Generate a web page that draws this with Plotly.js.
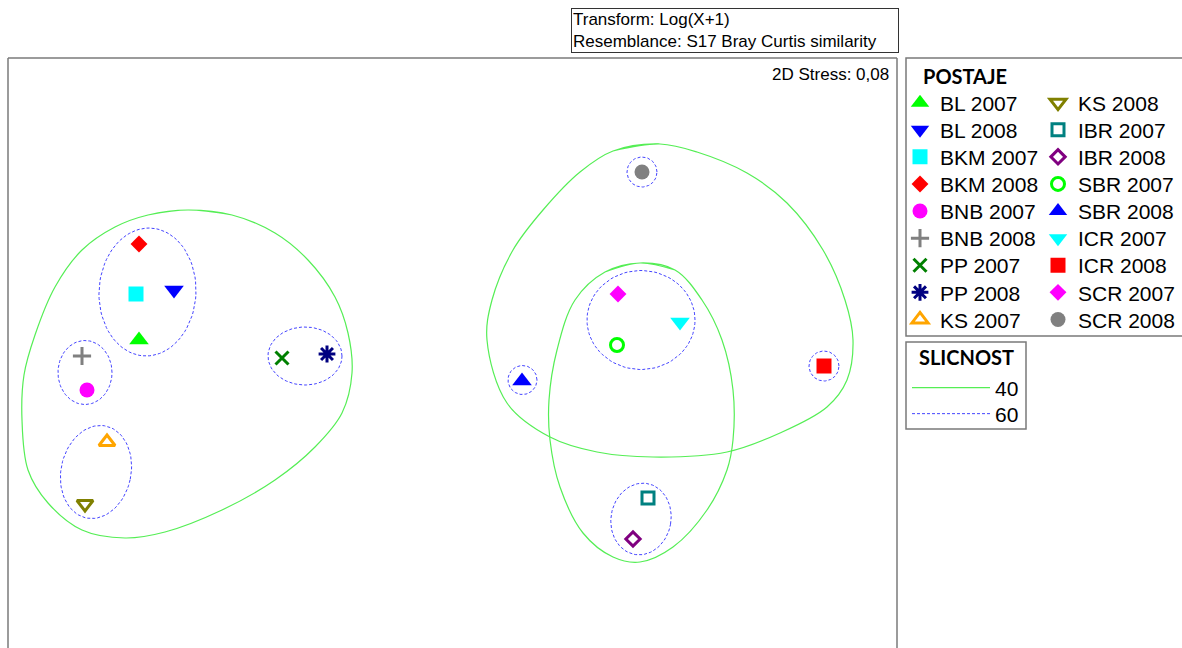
<!DOCTYPE html>
<html><head><meta charset="utf-8">
<script src="https://cdn.plot.ly/plotly-3.0.1.min.js"></script>
<style>html,body{margin:0;padding:0;background:#fff;}#chart{width:1182px;height:648px;}</style>
</head><body><div id="chart"></div>
<script>
// ---- Data (nMDS ordination coordinates) ----
const samples = ['BL 2007','BL 2008','BKM 2007','BKM 2008','BNB 2007','BNB 2008','PP 2007','PP 2008','KS 2007',
                 'KS 2008','IBR 2007','IBR 2008','SBR 2007','SBR 2008','ICR 2007','ICR 2008','SCR 2007','SCR 2008'];
const mds1 = [-3.14,-2.79,-3.17,-3.14,-3.66,-3.71,-1.71,-1.26,-3.46,
              -3.68, 1.95, 1.80, 1.64, 0.69, 2.27, 3.71, 1.65, 1.89];
const mds2 = [ 0.10, 0.60, 0.56, 1.06,-0.40,-0.06,-0.08,-0.04,-0.92,
              -1.54,-1.48,-1.89, 0.05,-0.31, 0.28,-0.16, 0.56, 1.78];

// 40% similarity contours (control points along each closed curve)
const c40aX = [-2.65,-2.21,-1.78,-1.45,-1.18,-1.05,-1.01,-1.11,-1.38,-1.78,-2.31,-2.88,-3.28,-3.71,-4.05,-4.25,-4.31,-4.29,-4.18,-3.98,-3.71,-3.38,-3.05];
const c40aY = [ 1.40, 1.35, 1.17, 0.90, 0.53, 0.17,-0.23,-0.63,-0.97,-1.30,-1.60,-1.82,-1.88,-1.80,-1.53,-1.20,-0.70,-0.25, 0.15, 0.63, 1.00, 1.23, 1.35];
const c40bX = [2.07,2.44,2.94,3.34,3.70,3.92,4.00,3.94,3.74,3.27,2.74,2.00,1.44,0.97,0.54,0.34,0.39,0.60,0.90,1.27,1.60];
const c40bY = [2.06,1.98,1.77,1.47,1.00,0.50,0.10,-0.30,-0.57,-0.83,-1.02,-1.07,-1.02,-0.87,-0.53,0.10,0.50,1.00,1.40,1.78,1.99];
const c40cX = [1.87,2.22,2.49,2.69,2.80,2.80,2.74,2.54,2.20,1.87,1.60,1.30,1.07,0.97,0.96,1.04,1.22,1.52];
const c40cY = [0.87,0.80,0.50,0.10,-0.40,-0.90,-1.20,-1.60,-1.97,-2.12,-2.07,-1.83,-1.37,-0.90,-0.50,0.00,0.50,0.78];

// 60% similarity contours (ellipses: centre, semi-axes, tilt in degrees)
const e60cx = [-3.055,-3.68,-1.48,-3.57, 1.89, 1.88, 0.695, 3.71, 1.88];
const e60cy = [ 0.58,-0.225,-0.06,-1.22, 1.78, 0.30,-0.30,-0.16,-1.69];
const e60rx = [ 0.485, 0.27, 0.37, 0.35, 0.15, 0.54, 0.145, 0.15, 0.30];
const e60ry = [ 0.64, 0.32, 0.29, 0.47, 0.15, 0.495, 0.145, 0.15, 0.36];
const e60tilt = [-3, 0, 0, -12, 0, 0, 0, 0, -10];

const stressText = '2D Stress: 0,08';

// ---- Styles ----
const symbols = ['triangle-up','triangle-down','square','diamond','circle','cross-thin-open','x-thin-open','asterisk-open','triangle-up-open',
                 'triangle-down-open','square-open','diamond-open','circle-open','triangle-up','triangle-down','square','diamond','circle'];
const colors = ['#00ff00','#0000ff','#00ffff','#ff0000','#ff00ff','#808080','#008000','#000080','#ffa500',
                '#808000','#008080','#800080','#00ff00','#0000ff','#00ffff','#ff0000','#ff00ff','#808080'];
const sizes = [17,17,15,13,15,13,13,14,14, 14,12,11,13,17,17,15,13,15];

const W = 1182, H = 648;
const ML = 8, MR = 285, MT = 58, MB = 0;
const pw = W - ML - MR, ph = H - MT - MB;
const px2x = p => (p - ML) / pw;
const py2y = p => (H - MB - p) / ph;
function px2xData(p){ return (p - 453) / 100; }
function py2yData(p){ return (350 - p) / 100; }

const traces = [];

// closed spline curves
function closedCurve(xs, ys) {
  const n = xs.length;
  const ox = [xs[n-1]], oy = [ys[n-1]];
  for (let i = 0; i < n; i++) { ox.push(xs[i]); oy.push(ys[i]); }
  ox.push(xs[0], xs[1]); oy.push(ys[0], ys[1]);
  return [ox, oy];
}
let gx = [], gy = [];
[[c40aX,c40aY],[c40bX,c40bY],[c40cX,c40cY]].forEach(([xs,ys], k) => {
  const [ox, oy] = closedCurve(xs, ys);
  if (k) { gx.push(null); gy.push(null); }
  gx = gx.concat(ox); gy = gy.concat(oy);
});
traces.push({type:'scatter', mode:'lines', x:gx, y:gy, name:'40', legend:'legend19',
  line:{color:'#55ee55', width:1.2, shape:'spline', smoothing:1}, connectgaps:false, hoverinfo:'skip'});

let bx = [], by = [];
for (let k = 0; k < e60cx.length; k++) {
  if (k) { bx.push(null); by.push(null); }
  const th = e60tilt[k] * Math.PI / 180, N = 90;
  for (let j = 0; j <= N; j++) {
    const t = 2 * Math.PI * j / N;
    const ex = e60rx[k] * Math.cos(t), ey = e60ry[k] * Math.sin(t);
    bx.push(e60cx[k] + ex * Math.cos(th) - ey * Math.sin(th));
    by.push(e60cy[k] + ex * Math.sin(th) + ey * Math.cos(th));
  }
}
traces.push({type:'scatter', mode:'lines', x:bx, y:by, name:'60', legend:'legend20',
  line:{color:'#4444ff', width:1, dash:'3px,2px'}, connectgaps:false, hoverinfo:'skip'});

const layoutLegends = {};
const legFont = {family:'Liberation Sans, Arial, sans-serif', size:21, color:'#000'};
samples.forEach((s, i) => {
  const open = symbols[i].endsWith('-open');
  const lname = i === 0 ? 'legend' : 'legend' + (i + 1);
  traces.push({type:'scatter', mode:'markers', x:[mds1[i]], y:[mds2[i]], name:s, legend:lname,
    marker:{symbol:symbols[i], size:sizes[i], color:colors[i],
            line:{color:colors[i], width: open ? 3 : 0}}});
  const col = i < 9 ? 0 : 1, row = i % 9;
  const L = col === 0 ? 900 : 1038;
  const yc = 103 + 27.1 * row;
  layoutLegends[lname] = {xref:'container', yref:'container', x:L / W, y:1 - yc / H,
    xanchor:'left', yanchor:'middle', bgcolor:'rgba(0,0,0,0)', borderwidth:0, font:legFont, itemwidth:30};
});
[['legend19',388],['legend20',414]].forEach(([ln, yc]) => {
  layoutLegends[ln] = {xref:'container', yref:'container', x:907 / W, y:1 - yc / H,
    xanchor:'left', yanchor:'middle', bgcolor:'rgba(0,0,0,0)', borderwidth:0, font:legFont, itemwidth:78};
});

const frameCol = '#7a7a7a';
const shapes = [
  {type:'line', xref:'paper', yref:'paper', x0:0, x1:0, y0:0, y1:1, line:{color:frameCol, width:1.5}},
  {type:'line', xref:'paper', yref:'paper', x0:0, x1:1, y0:1, y1:1, line:{color:frameCol, width:1.5}},
  {type:'line', xref:'paper', yref:'paper', x0:1, x1:1, y0:0, y1:1, line:{color:frameCol, width:1.5}},
  {type:'rect', xref:'paper', yref:'paper', x0:px2x(906), x1:px2x(1195), y0:py2y(336), y1:py2y(58), line:{color:frameCol, width:1.5}},
  {type:'rect', xref:'paper', yref:'paper', x0:px2x(906), x1:px2x(1026), y0:py2y(429), y1:py2y(342), line:{color:frameCol, width:1.5}}
];

const annotations = [
  {xref:'paper', yref:'paper', x:px2x(571), y:py2y(8), xanchor:'left', yanchor:'top', showarrow:false,
   text:'Transform: Log(X+1)<br>Resemblance: S17 Bray Curtis similarity', align:'left',
   width:324, bordercolor:'#333', borderwidth:1, borderpad:1,
   font:{family:'Liberation Sans, Arial, sans-serif', size:17, color:'#000'}},
  {xref:'paper', yref:'paper', x:px2x(891), y:py2y(74), xanchor:'right', yanchor:'middle', showarrow:false,
   text:stressText, font:{family:'Liberation Sans, Arial, sans-serif', size:17, color:'#000'}},
  {xref:'paper', yref:'paper', x:px2x(921), y:py2y(76), xanchor:'left', yanchor:'middle', showarrow:false,
   text:'<b>POSTAJE</b>', font:{family:'Lato, sans-serif', size:20, color:'#000'}},
  {xref:'paper', yref:'paper', x:px2x(917), y:py2y(357), xanchor:'left', yanchor:'middle', showarrow:false,
   text:'<b>SLICNOST</b>', font:{family:'Lato, sans-serif', size:20, color:'#000'}}
];

const layout = Object.assign({
  width:W, height:H,
  margin:{l:ML, r:MR, t:MT, b:MB, pad:0, autoexpand:false},
  paper_bgcolor:'#fff', plot_bgcolor:'#fff',
  showlegend:true,
  xaxis:{range:[px2xData(ML), px2xData(W - MR)], visible:false, fixedrange:true},
  yaxis:{range:[py2yData(H - MB), py2yData(MT)], visible:false, fixedrange:true},
  shapes:shapes, annotations:annotations
}, layoutLegends);

Plotly.newPlot('chart', traces, layout, {displayModeBar:false, staticPlot:true});
</script>
</body></html>
